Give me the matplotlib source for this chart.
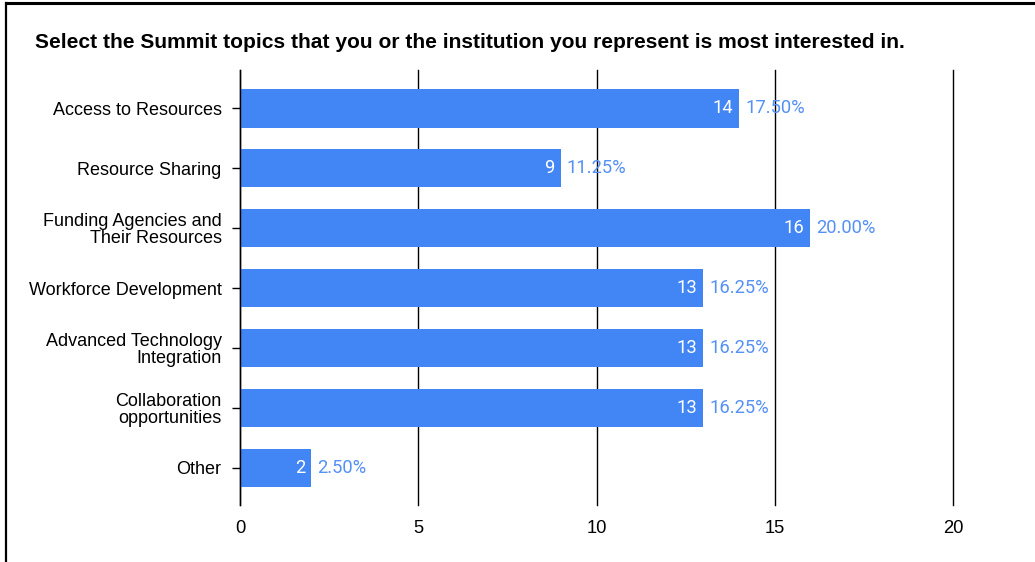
import matplotlib.pyplot as plt
from matplotlib.lines import Line2D

topics = ["Access to Resources", "Resource Sharing", "Funding Agencies and\nTheir Resources",
          "Workforce Development", "Advanced Technology\nIntegration",
          "Collaboration\nopportunities", "Other"]
counts = [14, 9, 16, 13, 13, 13, 2]
total_responses = 80
xticks = [0, 5, 10, 15, 20]

bar_blue = "#4285f4"
label_blue = "#5591f5"

fig = plt.figure(figsize=(10.35, 5.62), dpi=100)
ax = fig.add_axes([0.2319, 0.1014, 0.6889, 0.774])

ypos = list(range(len(topics)))
bars = ax.barh(ypos, counts, height=0.64, color=bar_blue, zorder=3)

ax.set_xlim(0, 20)
ax.set_ylim(len(topics) - 0.38, -0.64)
ax.set_xticks(xticks)
ax.set_yticks(ypos)
ax.set_yticklabels(topics)

ax.grid(axis="x", color="black", linewidth=1.0, zorder=1)
for gl in ax.get_xgridlines():
    gl.set_clip_on(False)
for side in ["top", "right", "bottom"]:
    ax.spines[side].set_visible(False)
ax.spines["left"].set_linewidth(1.0)
ax.spines["left"].set_zorder(4)

ax.tick_params(axis="y", direction="inout", length=12.2, width=1.0, pad=7.2)
ax.tick_params(axis="x", length=0, pad=11)
for lbl in ax.get_yticklabels():
    lbl.set_fontfamily("Liberation Sans")
    lbl.set_fontsize(13.0)
    lbl.set_linespacing(1.02)
for lbl in ax.get_xticklabels():
    lbl.set_fontfamily("Liberation Sans")
    lbl.set_fontsize(13.2)

# count inside the bar end, share of responses just after it
for rect, c in zip(bars, counts):
    yc = rect.get_y() + rect.get_height() / 2
    ax.annotate(str(c), (c, yc), xytext=(-6, 0), textcoords="offset pixels",
                ha="right", va="center", color="white", fontsize=13.2,
                family="Roboto", zorder=5)
    pct = c / total_responses * 100
    ax.annotate(f"{pct:.2f}%", (c, yc), xytext=(6, 0), textcoords="offset pixels",
                ha="left", va="center", color=label_blue, fontsize=13.2,
                family="Roboto", zorder=5)

fig.text(35 / 1035, 1 - 43 / 562,
         "Select the Summit topics that you or the institution you represent is most interested in.",
         ha="left", va="center", fontsize=15.1, fontweight="bold", family="Liberation Sans")

# frame edges
fig.add_artist(Line2D([6 / 1035, 6 / 1035], [0, 1 - 2.5 / 562], transform=fig.transFigure,
                      color="black", linewidth=1.6))
fig.add_artist(Line2D([6 / 1035, 1], [1 - 2.5 / 562, 1 - 2.5 / 562], transform=fig.transFigure,
                      color="black", linewidth=2.2))

fig.savefig("out.png", dpi=100)
